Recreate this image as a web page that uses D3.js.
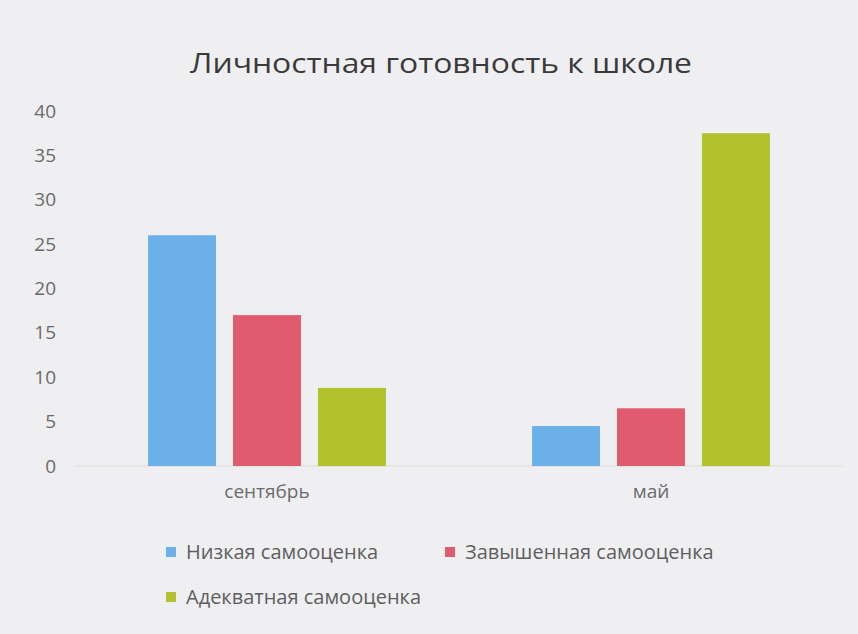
<!DOCTYPE html>
<html>
<head>
<meta charset="utf-8">
<script src="https://cdn.jsdelivr.net/npm/d3@7"></script>
<style>
  html, body { margin: 0; padding: 0; background: #efeff1; }
  svg { display: block; font-family: "Open Sans", "Noto Sans", sans-serif; }
</style>
</head>
<body>
<div id="chart"></div>
<script>
const title = "Личностная готовность к школе";
const categories = ["сентябрь", "май"];
const seriesNames = ["Низкая самооценка", "Завышенная самооценка", "Адекватная самооценка"];
const lowValues = [26, 4.5];
const highValues = [17, 6.5];
const adequateValues = [8.8, 37.5];
const yTicks = [0, 5, 10, 15, 20, 25, 30, 35, 40];
const colors = ["#6cb0ea", "#df5b6d", "#b4c12f"];

const width = 858, height = 634;
const margin = { top: 111, right: 15, bottom: 168, left: 75 };

const series = [lowValues, highValues, adequateValues];
const rows = categories.map((c, i) => ({
  category: c,
  values: series.map((s, j) => ({ key: seriesNames[j], value: s[i] })),
}));

const svg = d3.select("#chart").append("svg")
  .attr("width", width).attr("height", height);

const x0 = d3.scaleBand().domain(categories)
  .range([margin.left, width - margin.right]).paddingInner(0).paddingOuter(0);
const x1 = d3.scaleBand().domain(seriesNames)
  .range([0, x0.bandwidth()]).paddingInner(0.2).paddingOuter(0.86);
const y = d3.scaleLinear().domain([0, 40])
  .range([height - margin.bottom, margin.top]);
const color = d3.scaleOrdinal().domain(seriesNames).range(colors);

// title
svg.append("text")
  .attr("x", 441).attr("y", 73)
  .attr("text-anchor", "middle")
  .attr("font-size", 28)
  .attr("fill", "#3a3a3a")
  .attr("textLength", 502)
  .attr("lengthAdjust", "spacingAndGlyphs")
  .text(title);

// y axis labels
const yAxis = svg.append("g")
  .attr("transform", `translate(${margin.left - 19},0)`)
  .call(d3.axisLeft(y).tickValues(yTicks).tickSize(0).tickPadding(0));
yAxis.select(".domain").remove();
yAxis.selectAll("text")
  .attr("font-size", 19)
  .attr("font-family", "Open Sans, sans-serif")
  .attr("fill", "#6a6a6a");

// baseline
svg.append("line")
  .attr("x1", margin.left).attr("x2", width - margin.right)
  .attr("y1", y(0)).attr("y2", y(0))
  .attr("stroke", "#dcdcdc").attr("stroke-width", 1);

// bars
svg.append("g").selectAll("g")
  .data(rows)
  .join("g")
  .attr("transform", (d) => `translate(${x0(d.category)},0)`)
  .selectAll("rect")
  .data((d) => d.values)
  .join("rect")
  .attr("x", (d) => x1(d.key))
  .attr("width", x1.bandwidth())
  .attr("y", (d) => y(d.value))
  .attr("height", (d) => y(0) - y(d.value))
  .attr("fill", (d) => color(d.key));

// x axis labels
const xAxis = svg.append("g")
  .attr("transform", `translate(0,${y(0) + 18})`)
  .call(d3.axisBottom(x0).tickSize(0).tickPadding(0));
xAxis.select(".domain").remove();
xAxis.selectAll("text")
  .attr("font-size", 19)
  .attr("font-family", "Open Sans, sans-serif")
  .attr("fill", "#6a6a6a");

// legend
const legendPos = [[166, 552], [445, 552], [166, 597]];
const legend = svg.append("g").selectAll("g")
  .data(seriesNames)
  .join("g")
  .attr("transform", (d, i) => `translate(${legendPos[i][0]},${legendPos[i][1]})`);
legend.append("rect")
  .attr("x", 0).attr("y", -5).attr("width", 10).attr("height", 10)
  .attr("fill", (d) => color(d));
legend.append("text")
  .attr("x", 20).attr("dy", "0.35em")
  .attr("font-size", 20)
  .attr("fill", "#5e5e5e")
  .text((d) => d);
</script>
</body>
</html>
